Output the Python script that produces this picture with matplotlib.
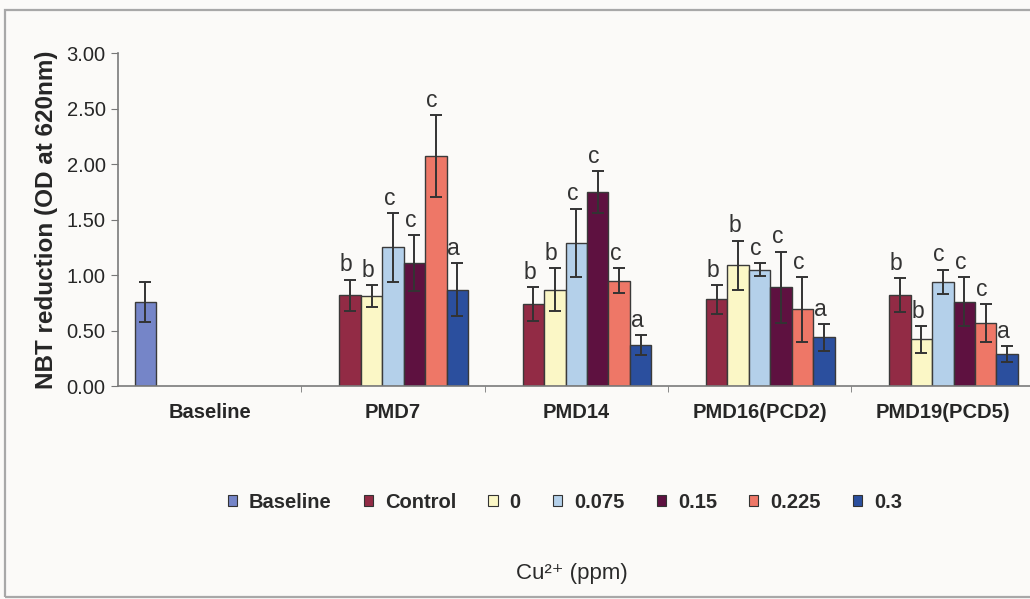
import numpy as np
import matplotlib
matplotlib.use("Agg")
import matplotlib.pyplot as plt
from matplotlib.patches import Patch, Rectangle

plt.rcParams['font.family'] = ['Liberation Sans', 'DejaVu Sans']

# ---- data -------------------------------------------------------------
categories = ["Baseline", "PMD7", "PMD14", "PMD16(PCD2)", "PMD19(PCD5)"]
series_names = ["Baseline", "Control", "0", "0.075", "0.15", "0.225", "0.3"]

# Baseline group (first category only)
baseline_mean = [0.76]
baseline_sd = [0.18]

# Treatment groups: PMD7, PMD14, PMD16(PCD2), PMD19(PCD5)
control_mean = [0.82, 0.74, 0.78, 0.82]
control_sd = [0.14, 0.15, 0.13, 0.15]
control_sig = ["b", "b", "b", "b"]

cu0_mean = [0.81, 0.87, 1.09, 0.42]
cu0_sd = [0.10, 0.19, 0.22, 0.12]
cu0_sig = ["b", "b", "b", "b"]

cu075_mean = [1.25, 1.29, 1.05, 0.94]
cu075_sd = [0.31, 0.31, 0.06, 0.11]
cu075_sig = ["c", "c", "c", "c"]

cu15_mean = [1.11, 1.75, 0.89, 0.76]
cu15_sd = [0.25, 0.19, 0.32, 0.22]
cu15_sig = ["c", "c", "c", "c"]

cu225_mean = [2.07, 0.95, 0.69, 0.57]
cu225_sd = [0.37, 0.11, 0.29, 0.17]
cu225_sig = ["c", "c", "c", "c"]

cu3_mean = [0.87, 0.37, 0.44, 0.29]
cu3_sd = [0.24, 0.09, 0.12, 0.07]
cu3_sig = ["a", "a", "a", "a"]

yticks = [0.0, 0.5, 1.0, 1.5, 2.0, 2.5, 3.0]

colors = ["#7585C8", "#922B45", "#FBF7C6", "#B4D0EA", "#5E1140", "#EE7767", "#2B4F9E"]

# ---- figure -------------------------------------------------------------
W, H = 1030, 599
fig = plt.figure(figsize=(W / 100, H / 100), dpi=100)
fig.patch.set_facecolor("#FBFAF8")

# page frame around the chart
fig.patches.append(Rectangle((5 / W, 2 / H), 1.2, (H - 12) / H, transform=fig.transFigure,
                             fill=False, edgecolor="#A8A8A8", linewidth=1.6))

ax = fig.add_axes([118 / W, (H - 386) / H, (1034.5 - 118) / W, (386 - 53.3) / H])
ax.set_facecolor("none")

slot = 0.117
x = np.arange(len(categories))
edge = "#3A3A3A"
err_kw = dict(ecolor="#333333", elinewidth=1.4, capsize=4.5, capthick=1.4)

groups = [
    (control_mean, control_sd, control_sig),
    (cu0_mean, cu0_sd, cu0_sig),
    (cu075_mean, cu075_sd, cu075_sig),
    (cu15_mean, cu15_sd, cu15_sig),
    (cu225_mean, cu225_sd, cu225_sig),
    (cu3_mean, cu3_sd, cu3_sig),
]

# baseline bar sits in the first slot of the first category
ax.bar(x[:1] + (0 - 3) * slot, baseline_mean, slot, yerr=baseline_sd,
       color=colors[0], edgecolor=edge, linewidth=1.0, error_kw=err_kw, zorder=2)

for i, (mean, sd, sig) in enumerate(groups, start=1):
    xs = x[1:] + (i - 3) * slot
    ax.bar(xs, mean, slot, yerr=sd, color=colors[i], edgecolor=edge,
           linewidth=1.0, error_kw=err_kw, zorder=2)
    for xi, m, s, t in zip(xs, mean, sd, sig):
        ax.text(xi - 0.02, m + s + 0.03, t, ha="center", va="bottom",
                fontsize=16.5, color="#333333", zorder=3)

ax.set_xlim(-0.5, len(categories) - 0.5)
ax.set_ylim(0, 3.0)
ax.set_yticks(yticks)
ax.set_yticklabels([f"{v:.2f}" for v in yticks], fontsize=14.5, color="#262626")
ax.set_xticks(x)
ax.set_xticklabels(categories, fontsize=14.5, fontweight="bold", color="#262626")
ax.set_xticks(np.arange(len(categories) - 1) + 0.5, minor=True)
ax.tick_params(axis="x", which="major", length=0, pad=12)
ax.tick_params(axis="x", which="minor", length=4, direction="out", color="#777777")
ax.tick_params(axis="y", length=5, direction="out", color="#777777", pad=4)

for side in ("top", "right"):
    ax.spines[side].set_visible(False)
for side in ("left", "bottom"):
    ax.spines[side].set_color("#7A7A7A")
    ax.spines[side].set_linewidth(1.2)

ax.set_ylabel("NBT reduction (OD at 620nm)", fontsize=17.5, fontweight="bold",
              color="#262626", labelpad=6)

handles = [Patch(facecolor=c, edgecolor="#333333", linewidth=0.8) for c in colors]
leg = fig.legend(handles, series_names, loc="center", bbox_to_anchor=(565 / W, 1 - 502 / H),
                 ncol=7, frameon=False, fontsize=14.5,
                 handlelength=0.45, handleheight=0.45, handletextpad=0.6,
                 columnspacing=1.6)
for t in leg.get_texts():
    t.set_fontweight("bold")
    t.set_color("#2A2A2A")

fig.text(572 / W, 1 - 573 / H, "Cu\u00b2\u207a (ppm)", ha="center", va="center",
         fontsize=16, color="#2A2A2A", family=["Liberation Sans", "DejaVu Sans"])

fig.savefig("out.png", dpi=100, facecolor=fig.get_facecolor())
